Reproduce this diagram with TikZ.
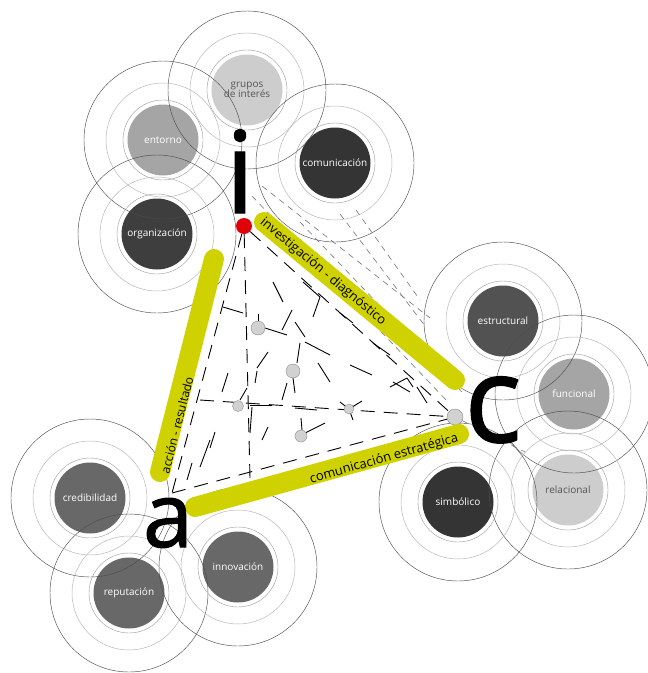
\documentclass[tikz,border=0pt]{standalone}
\usepackage{fontspec}
\setmainfont{Open Sans}
\newfontfamily\letterfont{Open Sans}[FakeBold=1.2]
\definecolor{barcol}{RGB}{208,210,0}
\definecolor{pale}{RGB}{205,205,205}
\definecolor{ltgray}{RGB}{165,165,165}
\definecolor{midgray}{RGB}{104,104,104}
\definecolor{dkgray}{RGB}{52,52,52}
\definecolor{orggray}{RGB}{62,62,62}
\definecolor{txtgray}{RGB}{85,85,85}
\definecolor{reddot}{RGB}{225,0,10}
\begin{document}
\begin{tikzpicture}[x=1pt,y=-1pt,
	disk/.style={circle,minimum size=71pt,inner sep=0pt,align=center,
		text=white,font=\fontsize{10}{10.5}\selectfont},
	ringa/.style={draw=black!40,line width=0.4pt},
	ringb/.style={draw=black!28,line width=0.5pt},
	ringc/.style={draw=black!70,line width=0.45pt},
	bar/.style={draw=barcol,line width=20pt,line cap=round},
	barlabel/.style={inner sep=0pt,font=\fontsize{13}{13}\selectfont},
	letter/.style={anchor=base,inner sep=0pt},
	edge/.style={dash pattern=on 14pt off 9pt,line width=0.9pt},
	bit/.style={line width=0.9pt},
	wire/.style={draw=black!55,dash pattern=on 6pt off 5pt,line width=0.6pt},
	dot/.style={circle,fill=black!18,draw=black!45,inner sep=0pt,line width=0.4pt}]
	\def \wmax{648}
	\def \hmax{673}
	\useasboundingbox (0,0) rectangle (\wmax,\hmax);
	% Vẽ các hình tròn
	\node[disk,fill=pale,text=txtgray] (grupos) at (247,90) {grupos\\[-1pt]de interés};
	\node[disk,fill=ltgray] (entorno) at (163,140) {entorno};
	\node[disk,fill=dkgray] (comunic) at (335,163) {comunicación};
	\node[disk,fill=orggray] (organiz) at (157,234) {organización};
	\node[disk,fill=dkgray!85!white] (estruct) at (503,321) {estructural};
	\node[disk,fill=ltgray] (funcion) at (574,394) {funcional};
	\node[disk,fill=pale,text=txtgray] (relacion) at (568,490) {relacional};
	\node[disk,fill=dkgray] (simbol) at (458,502) {simbólico};
	\node[disk,fill=midgray] (credib) at (90,498) {credibilidad};
	\node[disk,fill=midgray] (reput) at (129,593) {reputación};
	\node[disk,fill=midgray] (innov) at (238,567) {innovación};
	\foreach \n in {grupos,entorno,comunic,organiz,estruct,funcion,relacion,simbol,credib,reput,innov}{
		\draw[ringa] (\n.center) circle (40pt);
		\draw[ringb] (\n.center) circle (57pt);
		\draw[ringc] (\n.center) circle (79pt);
	}
	% Các đường nét đứt
	\draw[wire] (252,196) -- (448,402);
	\draw[wire] (262,186) -- (430,318);
	\draw[wire] (300,222) -- (462,392);
	\draw[wire] (340,214) -- (425,326);
	\draw[wire] (356,210) -- (420,300);
	\node[dot,minimum size=16pt] (cv) at (455,417) {};
	\node[circle,fill=reddot,inner sep=0pt,minimum size=16pt] (iv) at (244,226) {};
	\coordinate (av) at (172,493);
	\coordinate (mb) at (250,478);
	\coordinate (ml) at (200,400);
	\draw[wire] (cv) -- (525,452);
	\draw[edge] (iv) -- (av);
	\draw[edge] (av) -- (cv);
	\draw[edge] (iv) -- (cv);
	\draw[edge] (iv) -- (mb);
	\draw[edge] (ml) -- (cv);
	\foreach \xa/\ya/\xb/\yb in {273/282/283/302,303/282/320/297,320/297/313/317,
		223/307/243/313,292/310/282/330,265/328/287/335,258/314/258/322,
		295/322/305/337,305/342/330/355,340/313/353/323,318/363/330/382,
		350/365/372/375,373/343/390/355,300/343/297/363,268/352/257/368,
		257/371/255/383,247/388/240/400,250/405/272/405,252/407/250/433,
		287/383/282/400,293/378/295/393,295/408/317/410,301/418/302/430,
		305/433/325/423,268/427/262/440,215/432/210/448,228/373/222/392,
		340/402/349/409,349/409/362/401,349/409/353/420,393/382/410/392,
		390/387/407/378,407/378/413/387,417/387/427/403,192/463/187/480,
		210/440/200/467}
		\draw[bit] (\xa,\ya) -- (\xb,\yb);
	\node[dot,minimum size=14pt] (n1) at (258,328) {};
	\node[dot,minimum size=14pt] (n2) at (293,371) {};
	\node[dot,minimum size=11pt] (n3) at (238,406) {};
	\node[dot,minimum size=10pt] (n4) at (349,409) {};
	\node[dot,minimum size=12pt] (n5) at (301,436) {};
	% Ba thanh màu vàng
	\draw[bar] (264,222) -- (455,380);
	\draw[bar] (214,259) -- (160,472);
	\draw[bar] (195,507) -- (459,434);
	\node[barlabel,rotate=-39.8] (tinv) at (323,272) {investigación - diagnóstico};
	\node[barlabel,rotate=75.7,font=\fontsize{12}{12}\selectfont] (tacc) at (177,425) {acción - resultado};
	\node[barlabel,rotate=15.8] (tcom) at (384,459) {comunicación estratégica};
	% Các chữ cái lớn
	\node[letter,font=\letterfont\fontsize{114}{114}\selectfont] (li) at (240,213) {i};
	\node[letter,font=\letterfont\fontsize{90}{90}\selectfont] (la) at (168,547) {a};
	\node[letter,font=\letterfont\fontsize{120}{120}\selectfont] (lc) at (493,442) {c};
\end{tikzpicture}
\end{document}
